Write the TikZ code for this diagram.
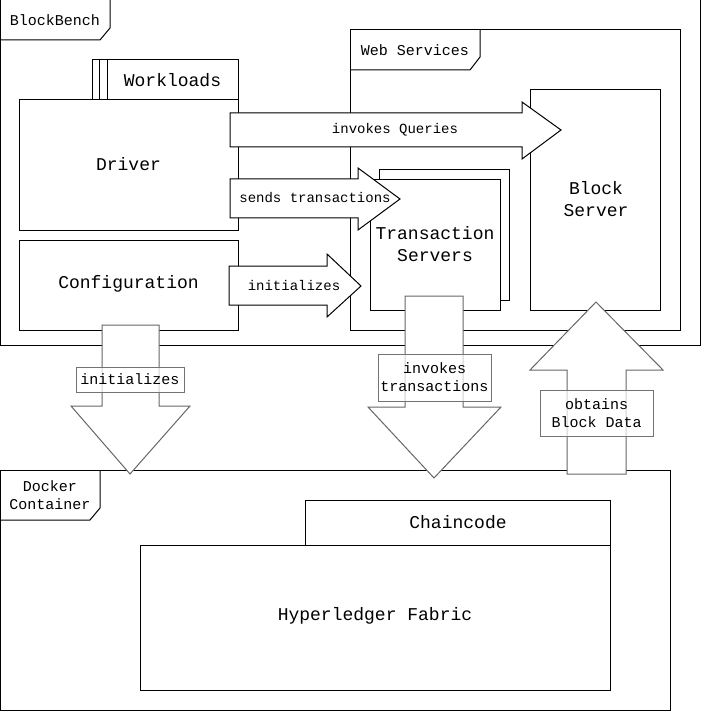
\documentclass[tikz,border=0pt]{standalone}
\usepackage{fontspec}
\setmainfont{Liberation Mono}
\usetikzlibrary{positioning}
\tikzset{
  box/.style={draw,fill=white,inner sep=0pt},
  bigtxt/.style={font=\fontsize{18}{22}\selectfont,align=center,inner sep=0pt},
  midtxt/.style={font=\fontsize{15}{18}\selectfont,align=center,inner sep=0pt},
  smalltxt/.style={font=\fontsize{14}{17}\selectfont,align=center,inner sep=0pt},
  flatarrow/.style={draw=black,fill=white},
  tallarrow/.style={draw=black!60,fill=white},
  tag/.style={draw=black!55,fill=white,fill opacity=0.7,text opacity=1,inner sep=0pt,
    font=\fontsize{15}{18}\selectfont,align=center}
}
\begin{document}
\begin{tikzpicture}[x=1pt,y=-1pt,line width=1pt,line join=miter]
\useasboundingbox (0,0) rectangle (701,711);
% blockbench frame
\draw (0,0) rectangle (700,345);
\draw (0,40) -- (100,40) -- (110,28) -- (110,0);
\node[midtxt] (bench) at (55,20) {BlockBench};
% driver side
\node[box,minimum width=219,minimum height=130] (driver) at (128.5,165) {};
\node[bigtxt] (drivertxt) at (128.5,164) {Driver};
\node[box,minimum width=146,minimum height=40] (work) at (165,80) {};
\draw (99,60) -- (99,100) (107,60) -- (107,100);
\node[bigtxt] (worktxt) at (172.5,80) {Workloads};
\node[box,minimum width=219,minimum height=90] (config) at (128.5,285) {};
\node[bigtxt] (configtxt) at (128.5,284) {Configuration};
% web services frame
\draw (350,30) rectangle (680,330);
\draw (350,70) -- (470,70) -- (480,57) -- (480,30);
\node[midtxt] (web) at (415,50) {Web Services};
\node[box,minimum width=130,minimum height=220] (block) at (595,200) {};
\node[bigtxt] (blocktxt) at (596,199) {Block\\Server};
\node[box,minimum width=130,minimum height=130] (txback) at (444,235) {};
\node[box,minimum width=130,minimum height=130] (tx) at (435,245) {};
\node[bigtxt] (txtxt) at (435,244) {Transaction\\Servers};
% horizontal arrows
\draw[flatarrow] (230,113) -- (522,113) -- (522,102) -- (561,130) -- (522,159) -- (522,147) -- (230,147) -- cycle;
\node[smalltxt] (queries) at (395,130) {invokes Queries};
\draw[flatarrow] (230,179) -- (358,179) -- (358,168) -- (400,199) -- (358,230) -- (358,218) -- (230,218) -- cycle;
\node[smalltxt] (sends) at (315,198) {sends transactions};
\draw[flatarrow] (229,266) -- (327,266) -- (327,254) -- (361,286) -- (327,317) -- (327,305) -- (229,305) -- cycle;
\node[smalltxt] (inith) at (294,285) {initializes};
% docker container frame
\draw (0,470) rectangle (670,710);
\draw (0,520) -- (90,520) -- (100,508) -- (100,470);
\node[midtxt] (docker) at (50,495) {Docker\\Container};
\node[box,minimum width=305,minimum height=45] (chain) at (457.5,522.5) {};
\node[bigtxt] (chaintxt) at (458,522) {Chaincode};
\node[box,minimum width=470,minimum height=145] (fabric) at (375,617.5) {};
\node[bigtxt] (fabrictxt) at (375,616) {Hyperledger Fabric};
% vertical arrows
\draw[tallarrow] (102,325) -- (159,325) -- (159,406) -- (190,406) -- (130,474) -- (71,406) -- (102,406) -- cycle;
\node[tag,minimum width=108,minimum height=25] (initv) at (130,379.5) {initializes};
\draw[tallarrow] (405,296) -- (463,296) -- (463,407) -- (501,407) -- (434,478) -- (368,407) -- (405,407) -- cycle;
\node[tag,minimum width=113,minimum height=47] (invokes) at (434.5,377.5) {invokes\\transactions};
\draw[tallarrow] (567,474) -- (626,474) -- (626,370) -- (663,370) -- (596,302) -- (530,370) -- (567,370) -- cycle;
\node[tag,minimum width=113,minimum height=46] (obtains) at (596.5,413) {obtains\\Block Data};
\end{tikzpicture}
\end{document}
